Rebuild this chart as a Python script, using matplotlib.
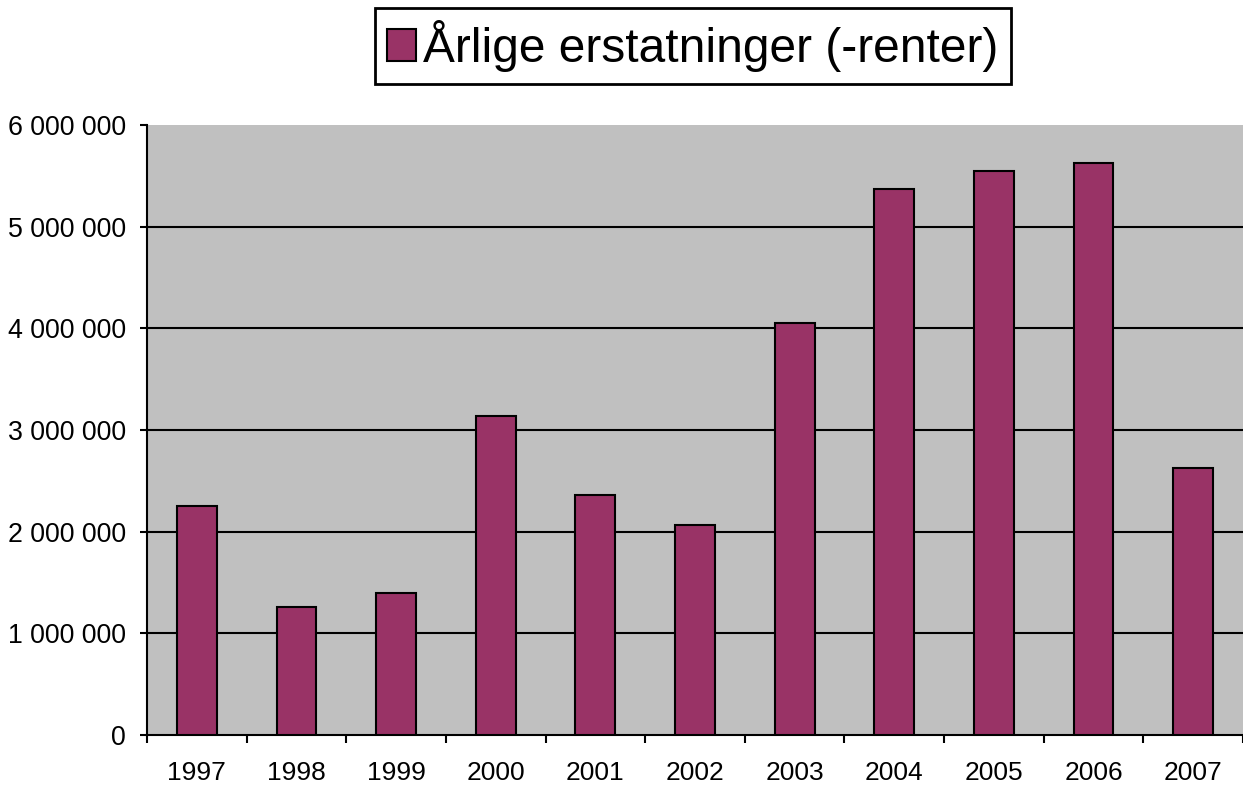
import matplotlib
matplotlib.use("Agg")
import matplotlib.pyplot as plt
from matplotlib.ticker import FuncFormatter

years = ["1997", "1998", "1999", "2000", "2001", "2002", "2003", "2004", "2005", "2006", "2007"]
values = [2250000, 1260000, 1400000, 3140000, 2360000, 2070000, 4050000, 5370000, 5550000, 5630000, 2630000]
series_name = "Årlige erstatninger (-renter)"

plt.rcParams['font.family'] = ['Liberation Sans', 'DejaVu Sans']

fig = plt.figure(figsize=(12.43, 7.89), dpi=100)
ax = fig.add_axes([147/1243, 54/789, 1 - 147/1243, (735-125)/789])
ax.set_facecolor('#C0C0C0')

x = list(range(len(years)))
bars = ax.bar(x, values, width=0.4, color='#993366', edgecolor='black', linewidth=1.5,
              label=series_name, zorder=3)

ax.set_xlim(-0.5, len(years) - 0.5)
ax.set_ylim(0, 6000000)
ax.set_yticks(range(0, 6000001, 1000000))
ax.yaxis.set_major_formatter(FuncFormatter(lambda v, p: f"{int(v):,}".replace(",", " ")))
for yv in range(1000000, 6000000, 1000000):
    ax.axhline(yv, color='black', linewidth=1.5, zorder=1)

ax.set_xticks(x)
ax.set_xticklabels(years)
ax.set_xticks([i - 0.5 for i in range(len(years) + 1)], minor=True)
ax.tick_params(axis='x', which='major', length=0, pad=19, labelsize=19)
ax.tick_params(axis='x', which='minor', length=6, width=1.5, direction='out')
ax.tick_params(axis='y', which='major', length=5, width=1.5, pad=10, labelsize=19.3)

for s in ['top', 'right']:
    ax.spines[s].set_visible(False)
ax.spines['left'].set_linewidth(1.5)
ax.spines['bottom'].set_linewidth(1.5)

leg = fig.legend(handles=[bars], labels=[series_name], loc='center',
                 bbox_to_anchor=(693/1243, 1 - 46/789), fontsize=34.5, frameon=True,
                 fancybox=False, edgecolor='black', framealpha=1, handlelength=0.6,
                 handleheight=0.65, handletextpad=0.15, borderpad=0.25, borderaxespad=0)
leg.get_frame().set_linewidth(2)

fig.savefig("out.png", dpi=100)
